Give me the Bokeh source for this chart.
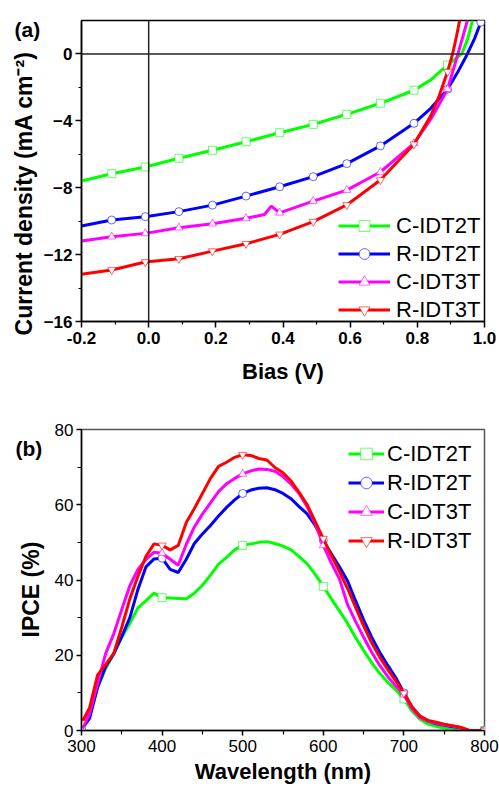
from bokeh.plotting import figure
from bokeh.layouts import column
from bokeh.models import Span, Legend, LegendItem, FixedTicker, PrintfTickFormatter
from bokeh.embed import file_html
from bokeh.resources import INLINE

FONT = "Liberation Sans"

names = ["C-IDT2T", "R-IDT2T", "C-IDT3T", "R-IDT3T"]
colors = ["#00ff00", "#0000ff", "#ff00ff", "#ff0000"]
marker_types = ["square", "circle", "triangle", "inverted_triangle"]

# ---------------- (a) J-V data ----------------
v_c2t = [-0.2, -0.11, -0.01, 0.09, 0.19, 0.29, 0.39, 0.49, 0.59, 0.69, 0.79, 0.84, 0.89, 0.91, 0.932, 0.95, 0.964]
j_c2t = [-7.6, -7.16, -6.76, -6.24, -5.76, -5.25, -4.71, -4.21, -3.61, -2.95, -2.17, -1.55, -0.66, -0.35, 0.0, 0.9, 2.0]

v_r2t = [-0.2, -0.11, -0.01, 0.09, 0.19, 0.29, 0.39, 0.49, 0.59, 0.69, 0.79, 0.84, 0.89, 0.92, 0.949, 0.97, 0.989]
j_r2t = [-10.29, -9.93, -9.73, -9.43, -9.04, -8.5, -7.94, -7.34, -6.56, -5.5, -4.15, -3.25, -2.11, -1.1, 0.0, 0.9, 1.9]

v_c3t = [-0.2, -0.11, -0.01, 0.09, 0.19, 0.29, 0.345, 0.365, 0.39, 0.49, 0.59, 0.69, 0.79, 0.84, 0.89, 0.921, 0.935, 0.949]
j_c3t = [-11.19, -10.93, -10.73, -10.39, -10.15, -9.83, -9.6, -9.1, -9.5, -8.8, -8.14, -7.06, -5.35, -3.9, -2.11, 0.0, 1.0, 2.0]

v_r3t = [-0.2, -0.11, -0.01, 0.09, 0.19, 0.29, 0.39, 0.49, 0.59, 0.69, 0.79, 0.84, 0.865, 0.89, 0.905, 0.916, 0.926]
j_r3t = [-13.18, -12.92, -12.44, -12.25, -11.79, -11.35, -10.79, -10.03, -9.03, -7.54, -5.4, -3.7, -2.5, -1.06, 0.0, 1.0, 2.0]

# marker positions (bias) and values read at them
mk_bias = [-0.11, -0.01, 0.09, 0.19, 0.29, 0.39, 0.49, 0.59, 0.69, 0.79, 0.89]
mk_c2t = [-7.16, -6.76, -6.24, -5.76, -5.25, -4.71, -4.21, -3.61, -2.95, -2.17, -0.66]
mk_r2t = [-9.93, -9.73, -9.43, -9.04, -8.5, -7.94, -7.34, -6.56, -5.5, -4.15, -2.11]
mk_c3t = [-10.93, -10.73, -10.39, -10.15, -9.83, -9.5, -8.8, -8.14, -7.06, -5.35, -2.11]
mk_r3t = [-12.92, -12.44, -12.25, -11.79, -11.35, -10.79, -10.03, -9.03, -7.54, -5.4, -1.06]
mk_bias_r2t_end = [0.989]
mk_r2t_end = [1.9]

# ---------------- (b) IPCE data ----------------
wl = list(range(300, 801, 10))
ipce_c2t = [0.5, 4, 11.5, 16.5, 20.4, 24.8, 28.5, 32.6, 34.5, 36.5, 35.3, 35.2, 35.1, 35.0, 36.5, 38.6,
            41.3, 44.2, 46.0, 48.0, 49.2, 49.6, 50.0, 50.2, 49.7, 49.0, 48.0, 46.2, 44.3, 41.5, 38.3,
            35.0, 31.8, 28.5, 24.7, 21.3, 18.0, 15.2, 12.8, 10.8, 8.4, 5.2, 3.0, 1.7, 1.1, 0.6, 0.3,
            0.1, 0, 0, 0]
ipce_r2t = [0.3, 3.2, 11.5, 17.0, 20.4, 25.0, 30.0, 37.5, 43.5, 45.6, 45.8, 42.8, 42.0, 45.5, 49.7, 52.2,
            54.5, 57.0, 59.3, 61.3, 63.0, 63.9, 64.4, 64.5, 64.0, 63.0, 61.6, 59.5, 57.6, 54.5, 50.5,
            47.0, 43.5, 39.8, 34.5, 29.4, 24.8, 20.8, 17.3, 14.0, 10.0, 6.2, 3.8, 2.5, 1.8, 1.4, 1.0,
            0.7, 0.1, 0, 0]
ipce_c3t = [0.0, 4.5, 12.5, 20.5, 25.7, 32.2, 38.5, 42.8, 45.5, 47.4, 47.1, 45.5, 43.9, 49.5, 54.1, 57.5,
            60.5, 63.5, 65.6, 67.0, 68.2, 69.0, 69.5, 69.4, 68.9, 67.5, 65.5, 63.0, 59.5, 55.0, 49.2,
            44.5, 40.3, 33.5, 29.0, 24.8, 20.8, 17.3, 14.3, 11.8, 9.5, 5.8, 3.4, 2.5, 1.9, 1.5, 1.2,
            0.8, 0.1, 0, 0]
ipce_r3t = [2.0, 6.0, 14.8, 17.5, 20.5, 27.5, 35.0, 41.0, 46.3, 49.6, 49.2, 48.0, 49.2, 55.3, 59.0, 63.0,
            67.0, 70.2, 71.3, 72.6, 73.3, 73.1, 72.3, 71.9, 69.9, 68.5, 66.3, 63.3, 60.0, 55.5, 51.0,
            46.5, 42.3, 37.8, 32.8, 27.8, 23.3, 19.5, 16.2, 13.2, 9.9, 6.3, 3.8, 2.7, 2.2, 1.7, 1.3,
            0.9, 0.1, 0, 0]
mk_wl = [300, 400, 500, 600, 700, 800]

NB = "\u00a0"


def style_axes(p, bold_ticks, tick_size, xlabel_size, ylabel_size, outline_color):
    for ax in (p.xaxis[0], p.yaxis[0]):
        ax.axis_line_color = "black"
        ax.axis_line_width = 1.5
        ax.major_tick_line_color = "black"
        ax.minor_tick_line_color = "black"
        ax.major_tick_line_width = 1.5
        ax.minor_tick_line_width = 1.2
        ax.major_tick_in = 0
        ax.minor_tick_in = 0
        ax.major_label_text_font = FONT
        ax.major_label_text_font_size = tick_size
        ax.major_label_text_font_style = "bold" if bold_ticks else "normal"
        ax.major_label_text_color = "black"
        ax.axis_label_text_font = FONT
        ax.axis_label_text_font_style = "bold"
        ax.axis_label_text_color = "black"
    p.xaxis[0].axis_label_text_font_size = xlabel_size
    p.yaxis[0].axis_label_text_font_size = ylabel_size
    p.xgrid.visible = False
    p.ygrid.visible = False
    p.outline_line_color = outline_color
    p.outline_line_width = 1.5
    p.background_fill_color = "white"
    p.border_fill_color = "white"


def panel_tag(p, text, offset, standoff):
    p.title.text = text
    p.title.align = "left"
    p.title.vertical_align = "bottom"
    p.title.offset = offset
    p.title.standoff = standoff
    p.title.text_font = FONT
    p.title.text_font_size = "21px"
    p.title.text_font_style = "bold"
    p.title.text_color = "black"


# ---------------- figure (a) ----------------
p1 = figure(frame_width=403, frame_height=301, x_range=(-0.2, 1.0), y_range=(-16, 2),
            output_backend="svg", toolbar_location=None,
            min_border_left=79, min_border_right=17, min_border_top=20, min_border_bottom=74)
p1.xaxis.axis_label = "Bias (V)"
p1.yaxis.axis_label = "Current density (mA cm\u207B\u00B2)" + NB * 7
p1.xaxis.ticker = FixedTicker(ticks=[-0.2, 0.0, 0.2, 0.4, 0.6, 0.8, 1.0],
                              minor_ticks=[-0.1, 0.1, 0.3, 0.5, 0.7, 0.9])
p1.yaxis.ticker = FixedTicker(ticks=[-16, -12, -8, -4, 0], minor_ticks=[-14, -10, -6, -2])
p1.xaxis.formatter = PrintfTickFormatter(format="%.1f")
style_axes(p1, True, "17px", "22px", "23px", "black")
p1.xaxis.major_tick_out = 6
p1.yaxis.major_tick_out = 6
p1.xaxis.minor_tick_out = 3
p1.yaxis.minor_tick_out = 3
p1.xaxis.major_label_standoff = 4
p1.yaxis.major_label_standoff = 3
p1.xaxis.axis_label_standoff = 12
p1.yaxis.axis_label_standoff = 4
panel_tag(p1, "(a)", -67, -40)

p1.add_layout(Span(location=0, dimension="width", line_color="#222222", line_width=1.5))
p1.add_layout(Span(location=0, dimension="height", line_color="#222222", line_width=1.5))

jv_lines = [(v_c2t, j_c2t, mk_c2t), (v_r2t, j_r2t, mk_r2t), (v_c3t, j_c3t, mk_c3t), (v_r3t, j_r3t, mk_r3t)]
items1 = []
for (vv, jj, mk), name, col, mt in zip(jv_lines, names, colors, marker_types):
    lr = p1.line(vv, jj, line_color=col, line_width=3)
    mr = p1.scatter(mk_bias, mk, marker=mt, size=8, fill_color="white", line_color=col,
                    line_alpha=0.6, line_width=1)
    items1.append(LegendItem(label=name, renderers=[lr, mr]))
p1.scatter(mk_bias_r2t_end, mk_r2t_end, marker="circle", size=8, fill_color="white",
           line_color="#0000ff", line_alpha=0.6, line_width=1)

leg1 = Legend(items=items1, location=(257, -2), border_line_color=None, background_fill_alpha=0,
              label_text_font=FONT, label_text_font_size="22px", label_text_color="black",
              glyph_width=52, glyph_height=27, label_height=27, spacing=1, padding=0,
              margin=0, label_standoff=6)
p1.add_layout(leg1)

# ---------------- figure (b) ----------------
p2 = figure(frame_width=403, frame_height=301, x_range=(300, 800), y_range=(0, 80),
            output_backend="svg", toolbar_location=None,
            min_border_left=81, min_border_right=15, min_border_top=34, min_border_bottom=56)
p2.xaxis.axis_label = "Wavelength (nm)"
p2.yaxis.axis_label = "IPCE (%)" + NB * 3
p2.xaxis.ticker = FixedTicker(ticks=[300, 400, 500, 600, 700, 800], minor_ticks=[350, 450, 550, 650, 750])
p2.yaxis.ticker = FixedTicker(ticks=[0, 20, 40, 60, 80], minor_ticks=[10, 30, 50, 70])
style_axes(p2, False, "17px", "22px", "23px", "#555555")
p2.xaxis.major_tick_out = 5
p2.yaxis.major_tick_out = 5
p2.xaxis.minor_tick_out = 4
p2.yaxis.minor_tick_out = 4
p2.xaxis.major_label_standoff = 4
p2.yaxis.major_label_standoff = 3
p2.xaxis.axis_label_standoff = 4
p2.yaxis.axis_label_standoff = 8
panel_tag(p2, "(b)", -66, -60)

ipce_all = [ipce_c2t, ipce_r2t, ipce_c3t, ipce_r3t]
items2 = []
for vals, name, col, mt in zip(ipce_all, names, colors, marker_types):
    lr = p2.line(wl, vals, line_color=col, line_width=3)
    mk_vals = [vals[wl.index(w)] for w in mk_wl]
    mr = p2.scatter(mk_wl, mk_vals, marker=mt, size=8, fill_color="white", line_color=col,
                    line_alpha=0.6, line_width=1)
    items2.append(LegendItem(label=name, renderers=[lr, mr]))

leg2 = Legend(items=items2, location=(267, 175), border_line_color=None, background_fill_alpha=0,
              label_text_font=FONT, label_text_font_size="22px", label_text_color="black",
              glyph_width=36, glyph_height=29, label_height=29, spacing=0, padding=0,
              margin=0, label_standoff=3)
p2.add_layout(leg2)

layout = column(p1, p2, spacing=0)
open("out.html", "w").write(file_html(layout, INLINE))
